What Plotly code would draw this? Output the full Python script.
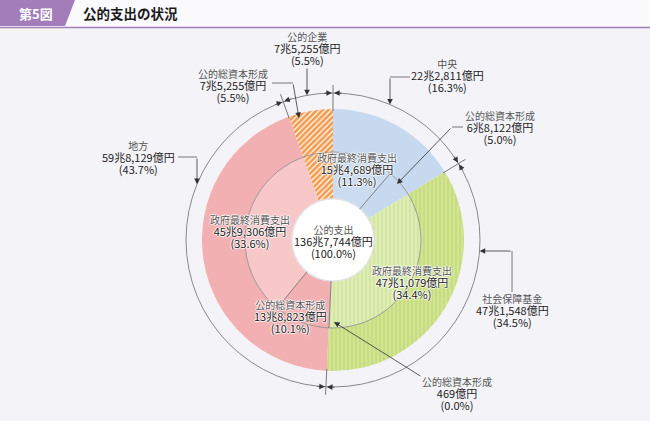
import math
import plotly.graph_objects as go

# ---------------- data ----------------
sector_names = ["中央", "社会保障基金", "地方", "公的企業"]
sector_values = [222811, 471548, 598129, 75255]  # 億円
sector_amounts = ["22兆2,811億円", "47兆1,548億円", "59兆8,129億円", "7兆5,255億円"]
sector_pcts = ["(16.3%)", "(34.5%)", "(43.7%)", "(5.5%)"]

item_sectors = ["中央", "中央", "社会保障基金", "社会保障基金", "地方", "地方", "公的企業"]
item_names = ["政府最終消費支出", "公的総資本形成", "政府最終消費支出", "公的総資本形成",
              "公的総資本形成", "政府最終消費支出", "公的総資本形成"]
item_values = [154689, 68122, 471079, 469, 138823, 459306, 75255]  # 億円
item_amounts = ["15兆4,689億円", "6兆8,122億円", "47兆1,079億円", "469億円",
                "13兆8,823億円", "45兆9,306億円", "7兆5,255億円"]
item_pcts = ["(11.3%)", "(5.0%)", "(34.4%)", "(0.0%)", "(10.1%)", "(33.6%)", "(5.5%)"]

total_name = "公的支出"
total_amount = "136兆7,744億円"
total_pct = "(100.0%)"

fig_label = "第5図"
fig_title = "公的支出の状況"

# ---------------- geometry / style ----------------
W, H = 650, 421
CX, CY = 333, 240
R_OUT, R_MID, R_IN, R_RING = 131, 88, 41, 147
FONT = "Noto Sans CJK JP"
BG = "#f4f4f8"


def px(x):
    return x / W


def py(y):
    return 1 - y / H


def polar(r, deg):
    a = math.radians(deg)
    return CX + r * math.sin(a), CY - r * math.cos(a)


def domain(r):
    return dict(x=[px(CX - r), px(CX + r)], y=[py(CY + r), py(CY - r)])


sector_colors = ["#c6d9ef", "#c8de7e", "#f2b0b2", "#f39b4e"]
sector_shapes = ["", "|", "", "/"]
sector_fg = ["#c6d9ef", "#d8e9a4", "#f2b0b2", "#ffffff"]

item_colors = ["#cbdcf1", "#c6d9ef", "#deecb6", "#c8de7e", "#f2b0b2", "#f8c8c9", "#f39b4e"]
item_shapes = ["", "", "|", "|", "", "", "/"]
item_fg = ["#cbdcf1", "#c6d9ef", "#cfe398", "#d8e9a4", "#f2b0b2", "#f8c8c9", "#ffffff"]

fig = go.Figure()

# outer ring: sectors
fig.add_trace(go.Pie(
    values=sector_values, labels=sector_names, sort=False, direction="clockwise", rotation=0,
    hole=R_MID / R_OUT, domain=domain(R_OUT), textinfo="none", showlegend=False,
    marker=dict(colors=sector_colors, line=dict(width=0),
                pattern=dict(shape=sector_shapes, fgcolor=sector_fg, bgcolor=sector_colors,
                             size=4, solidity=0.3, fillmode="replace")),
))

# inner ring: items
item_labels = [f"{s}・{n}" for s, n in zip(item_sectors, item_names)]
fig.add_trace(go.Pie(
    values=item_values, labels=item_labels, sort=False, direction="clockwise", rotation=0,
    hole=R_IN / R_MID, domain=domain(R_MID), textinfo="none", showlegend=False,
    marker=dict(colors=item_colors, line=dict(width=0),
                pattern=dict(shape=item_shapes, fgcolor=item_fg, bgcolor=item_colors,
                             size=4, solidity=0.3, fillmode="replace")),
))

shapes = []
annotations = []

# title bar
shapes.append(dict(type="rect", xref="paper", yref="paper", x0=0, x1=1, y0=py(27), y1=1,
                   fillcolor="#fbfafd", line=dict(width=0), layer="below"))
shapes.append(dict(type="path", xref="paper", yref="paper",
                   path=f"M0,{py(0)} L{px(75)},{py(0)} L{px(65)},{py(26)} L0,{py(26)} Z",
                   fillcolor="#a27db9", line=dict(width=0), layer="below"))
shapes.append(dict(type="line", xref="paper", yref="paper", x0=0, x1=1, y0=py(27.5), y1=py(27.5),
                   line=dict(color="#a27db9", width=1.5)))
annotations.append(dict(x=px(36), y=py(13.5), xref="paper", yref="paper", text=f"<b>{fig_label}</b>",
                        xanchor="center", yanchor="middle", showarrow=False,
                        font=dict(family=FONT, size=13, color="white")))
annotations.append(dict(x=px(81), y=py(13.5), xref="paper", yref="paper", text=f"<b>{fig_title}</b>",
                        xanchor="left", yanchor="middle", showarrow=False,
                        font=dict(family=FONT, size=13.5, color="#1a1a1a")))

LINE = "#6a6a6a"


def circle(r, fill=None, color=LINE, width=0.9):
    d = dict(type="circle", xref="paper", yref="paper", x0=px(CX - r), x1=px(CX + r),
             y0=py(CY + r), y1=py(CY - r), line=dict(color=color, width=width), layer="above")
    if fill:
        d["fillcolor"] = fill
    return d


shapes.append(circle(R_RING, color="#8a8a8a", width=1))
shapes.append(circle(R_MID, color="#8a8a8a", width=0.8))
shapes.append(circle(R_IN + 1, fill="#e6e6ea", color="#e6e6ea", width=0))
shapes.append(circle(R_IN, fill="white", color="#dcdcdc", width=0.8))

# dividers inside the inner ring (between items of the same sector)
tot = sum(item_values)
cum = 0
for i, v in enumerate(item_values[:-1]):
    cum += v
    if item_sectors[i] == item_sectors[i + 1]:
        ang = cum / tot * 360
        x0, y0 = polar(R_IN, ang)
        x1, y1 = polar(R_MID, ang)
        shapes.append(dict(type="line", xref="paper", yref="paper", x0=px(x0), y0=py(y0),
                           x1=px(x1), y1=py(y1), line=dict(color=LINE, width=0.8), layer="above"))

# sector boundary ticks on the outer ring
stot = sum(sector_values)
cum = 0
bounds = [0]
for v in sector_values[:-1]:
    cum += v
    bounds.append(cum / stot * 360)


def arrow(tip, tail, width=0.8, size=1.4):
    annotations.append(dict(x=px(tip[0]), y=py(tip[1]), xref="paper", yref="paper", text="",
                            showarrow=True, arrowhead=2, arrowsize=size, arrowwidth=width,
                            arrowcolor="#333", ax=tail[0] - tip[0], ay=tail[1] - tip[1], standoff=0))


for ang in bounds:
    x0, y0 = polar(R_OUT - 2, ang)
    x1, y1 = polar(R_RING + 8, ang)
    shapes.append(dict(type="line", xref="paper", yref="paper", x0=px(x0), y0=py(y0),
                       x1=px(x1), y1=py(y1), line=dict(color=LINE, width=0.9), layer="above"))
    tipx, tipy = polar(R_RING, ang)
    a = math.radians(ang)
    tx, ty = math.cos(a), math.sin(a)
    arrow((tipx - 1 * tx, tipy - 1 * ty), (tipx - 10 * tx, tipy - 10 * ty))
    arrow((tipx + 1 * tx, tipy + 1 * ty), (tipx + 10 * tx, tipy + 10 * ty))


def seg(pts):
    for (xa, ya), (xb, yb) in zip(pts[:-1], pts[1:]):
        shapes.append(dict(type="line", xref="paper", yref="paper", x0=px(xa), y0=py(ya),
                           x1=px(xb), y1=py(yb), line=dict(color=LINE, width=0.9), layer="above"))


def ring_y(x, sign=-1):
    return CY + sign * math.sqrt(R_RING ** 2 - (x - CX) ** 2)


def ring_x(y, sign=1):
    return CX + sign * math.sqrt(R_RING ** 2 - (y - CY) ** 2)


# leader lines
arrow((307, ring_y(307)), (307, 67))                       # 公的企業
seg([(272, 83), (293, 83)]); arrow((299, 118), (293, 83))  # 公的総資本形成 (公的企業)
seg([(410, 77), (390, 77)]); arrow((390, ring_y(390)), (390, 77))  # 中央
seg([(463, 127), (452, 127)]); arrow((397, 184), (452, 127))       # 中央 公的総資本形成
seg([(178, 157), (197, 157)]); arrow((197, ring_y(197)), (197, 157))  # 地方
seg([(512, 292), (512, 251)]); arrow((ring_x(251), 251), (512, 251))  # 社会保障基金
arrow((334, 322), (422, 377))                               # 社保 公的総資本形成

# text blocks
HALO = "1px 0px 1px white, -1px 0px 1px white, 0px 1px 1px white, 0px -1px 1px white"


def block(x, y, lines, halo=False):
    name, amount, pct = lines
    text = (f"<span style='font-size:10px;color:#555'>{name}</span><br>"
            f"<span style='font-size:11px'>{amount}</span><br>"
            f"<span style='font-size:11px'>{pct}</span>")
    f = dict(family=FONT, size=9.3, color="#222")
    if halo:
        f["shadow"] = HALO
    annotations.append(dict(x=px(x), y=py(y + 12), xref="paper", yref="paper", text=text,
                            showarrow=False, font=f, xanchor="center", yanchor="middle",
                            align="center", borderpad=0))


block(307, 36, [sector_names[3], sector_amounts[3], sector_pcts[3]])
block(233, 73, [item_names[6], item_amounts[6], item_pcts[6]])
block(447, 63, [sector_names[0], sector_amounts[0], sector_pcts[0]])
block(500, 115, [item_names[1], item_amounts[1], item_pcts[1]])
block(138, 145, [sector_names[2], sector_amounts[2], sector_pcts[2]])
block(512, 298, [sector_names[1], sector_amounts[1], sector_pcts[1]])
block(457, 381, [item_names[3], item_amounts[3], item_pcts[3]])
block(357, 157, [item_names[0], item_amounts[0], item_pcts[0]], halo=True)
block(250, 220, [item_names[5], item_amounts[5], item_pcts[5]], halo=True)
block(290, 304, [item_names[4], item_amounts[4], item_pcts[4]], halo=True)
block(412, 270, [item_names[2], item_amounts[2], item_pcts[2]], halo=True)
block(333, 229, [total_name, total_amount, total_pct])

fig.update_layout(
    width=W, height=H, margin=dict(l=0, r=0, t=0, b=0),
    paper_bgcolor=BG, plot_bgcolor=BG,
    shapes=shapes, annotations=annotations, showlegend=False,
    font=dict(family=FONT),
)

fig.write_html("out.html", config={"displayModeBar": False},
               post_script="document.body.style.margin='0';document.body.style.background='" + BG + "';")
